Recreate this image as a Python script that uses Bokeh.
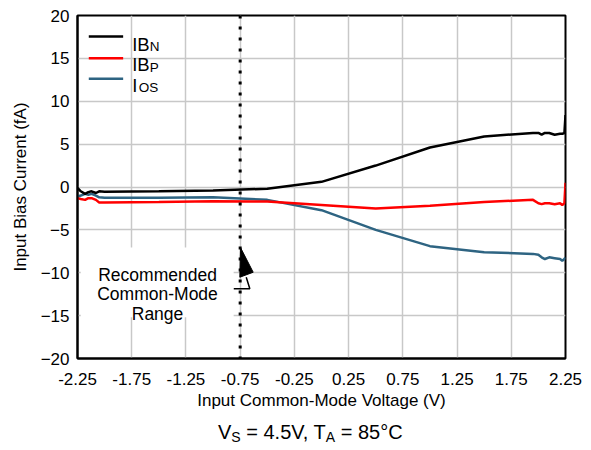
from bokeh.plotting import figure
from bokeh.models import FixedTicker, Label, Span, Div
from bokeh.layouts import column
from bokeh.embed import file_html
from bokeh.resources import INLINE

# ---- data ----
vcm = [-2.25, -2.22, -2.18, -2.15, -2.12, -2.08, -2.05, -2.0, -1.5, -1.0, -0.5,
       0.0, 0.5, 1.0, 1.5, 1.95, 2.0, 2.03, 2.06, 2.1, 2.15, 2.2, 2.22, 2.24, 2.25]
ib_n = [-0.1, -0.5, -0.8, -0.6, -0.5, -0.7, -0.5, -0.55, -0.5, -0.4, -0.2,
        0.6, 2.5, 4.6, 5.9, 6.3, 6.3, 6.1, 6.3, 6.3, 6.1, 6.2, 6.2, 6.3, 8.4]
ib_p = [-1.3, -1.4, -1.5, -1.3, -1.3, -1.5, -1.8, -1.8, -1.75, -1.65, -1.7,
        -2.1, -2.5, -2.2, -1.75, -1.5, -1.9, -2.0, -1.9, -1.9, -2.0, -1.9, -2.1, -1.9, 0.5]
i_os = [-1.1, -1.0, -0.8, -0.9, -0.8, -1.0, -1.2, -1.25, -1.25, -1.2, -1.5,
        -2.7, -5.0, -6.9, -7.6, -7.8, -7.9, -8.2, -8.4, -8.2, -8.3, -8.4, -8.6, -8.4, -8.2]

x_ticks = [-2.25, -1.75, -1.25, -0.75, -0.25, 0.25, 0.75, 1.25, 1.75, 2.25]
x_tick_labels = ["-2.25", "-1.75", "-1.25", "-0.75", "-0.25", "0.25", "0.75", "1.25", "1.75", "2.25"]
y_ticks = [-20, -15, -10, -5, 0, 5, 10, 15, 20]
cm_limit = -0.75

series_names = ["IB", "IB", "I"]
series_subs = ["N", "P", "OS"]
series_colors = ["#000000", "#FF0000", "#2E6482"]

cap_main = ["V", " = 4.5V, T", " = 85°C"]
cap_sub = ["S", "A"]

FONT = "Liberation Sans"

p = figure(width=591, height=422, x_range=(-2.25, 2.25), y_range=(-20, 20),
           output_backend="svg", toolbar_location=None,
           min_border_left=77, min_border_right=26, min_border_top=15, min_border_bottom=64)

p.outline_line_color = "black"
p.outline_line_width = 2
p.background_fill_color = "white"
p.border_fill_color = "white"

p.xaxis.ticker = FixedTicker(ticks=x_ticks)
p.xaxis.major_label_overrides = {t: l for t, l in zip(x_ticks, x_tick_labels)}
p.yaxis.ticker = FixedTicker(ticks=y_ticks)
for ax in (p.xaxis, p.yaxis):
    ax.major_tick_out = 0
    ax.major_tick_in = 0
    ax.minor_tick_out = 0
    ax.minor_tick_in = 0
    ax.axis_line_color = "black"
    ax.axis_line_width = 2
    ax.major_label_text_font = FONT
    ax.major_label_text_font_size = "17px"
    ax.major_label_text_color = "black"
    ax.axis_label_text_font = FONT
    ax.axis_label_text_font_size = "17px"
    ax.axis_label_text_font_style = "normal"
    ax.axis_label_text_color = "black"
p.xaxis.axis_label = "Input Common-Mode Voltage (V)"
p.yaxis.axis_label = "Input Bias Current (fA)"
p.xaxis.major_label_standoff = 14
p.xaxis.axis_label_standoff = 3
p.yaxis.major_label_standoff = 8
p.yaxis.axis_label_standoff = 8

p.grid.grid_line_color = "#C8C8C8"
p.grid.grid_line_width = 1.5

# white box behind annotation text
p.quad(left=[-2.22], right=[-0.81], top=[-7.06], bottom=[-15.2],
       fill_color="white", line_color=None)

# recommended common-mode range limit
p.add_layout(Span(location=cm_limit, dimension="height", line_color="black",
                  line_width=3, line_dash="3 8"))

# data lines
for ys, c in zip([i_os, ib_p, ib_n], [series_colors[2], series_colors[1], series_colors[0]]):
    p.line(vcm, ys, line_color=c, line_width=2.5)

# arrow (leader + head)
p.patch([-0.747, -0.753, -0.630], [-7.06, -10.52, -9.94], fill_color="black", line_color="black")
p.line([-0.694, -0.661, -0.809], [-10.52, -11.87, -11.87], line_color="black", line_width=1.5)

# annotation text
for txt, yy in zip(["Recommended", "Common-Mode", "Range"], [-10.32, -12.48, -14.81]):
    p.add_layout(Label(x=-1.512, y=yy, text=txt, text_align="center", text_baseline="alphabetic",
                       text_font=FONT, text_font_size="17.5px", text_color="black"))

# manual legend
leg_line_y = [17.55, 15.02, 12.62]
leg_base_y = [16.62, 14.23, 11.84]
leg_sub_y = [16.35, 13.97, 11.57]
leg_sub_x = [-1.584, -1.584, -1.685]
for name, sub, c, ly, by, sy, sx in zip(series_names, series_subs, series_colors,
                                        leg_line_y, leg_base_y, leg_sub_y, leg_sub_x):
    p.line([-2.146, -1.829], [ly, ly], line_color=c, line_width=2.5)
    p.add_layout(Label(x=-1.746, y=by, text=name, text_baseline="alphabetic",
                       text_font=FONT, text_font_size="18.5px", text_color="black"))
    p.add_layout(Label(x=sx, y=sy, text=sub, text_baseline="alphabetic",
                       text_font=FONT, text_font_size="13.5px", text_color="black"))

# bottom caption: V_S = 4.5V, T_A = 85°C
sub_style = "font-size:14px; position:relative; top:3px;"
cap_html = (
    '<div style="margin-left:218px; font-family:\'Liberation Sans\'; font-size:20px; '
    'line-height:20px; white-space:nowrap; color:black;">'
    f'{cap_main[0]}<span style="{sub_style}">{cap_sub[0]}</span>{cap_main[1]}'
    f'<span style="{sub_style}">{cap_sub[1]}</span>{cap_main[2]}</div>'
)
caption = Div(text=cap_html, width=591, height=28, margin=0)

layout = column(p, caption, spacing=0)
open("out.html", "w").write(file_html(layout, INLINE))
